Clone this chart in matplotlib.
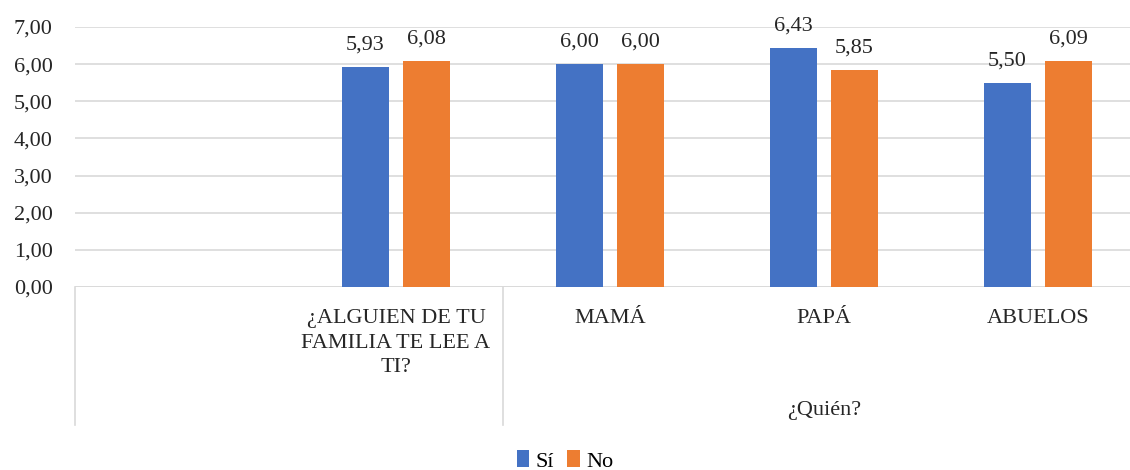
import matplotlib
matplotlib.use("Agg")
import matplotlib.pyplot as plt
from matplotlib.patches import Patch
import matplotlib.transforms as mtransforms
import numpy as np

plt.rcParams['font.family'] = ['Liberation Serif', 'DejaVu Serif']

categories = ["", "¿ALGUIEN DE TU\nFAMILIA TE LEE A\nTI?", "MAMÁ", "PAPÁ", "ABUELOS"]
group_label = "¿Quién?"
series_names = ["Sí", "No"]
si_values = [np.nan, 5.93, 6.00, 6.43, 5.50]
no_values = [np.nan, 6.08, 6.00, 5.85, 6.09]
yticks = [0, 1, 2, 3, 4, 5, 6, 7]

blue = "#4472C4"
orange = "#ED7D31"
grid_col = "#D9D9D9"
txt_col = "#262626"
fs = 16

fig = plt.figure(figsize=(11.3, 4.7), dpi=100)
ax = fig.add_axes([75 / 1130, 183 / 470, 1 - 75 / 1130, (287 - 27) / 470])

x = np.arange(len(categories))
w = 0.224
off = 0.1425
for vals, col, sign in ((si_values, blue, -1), (no_values, orange, 1)):
    ax.bar(x + sign * off, vals, width=w, color=col, zorder=3)
    for xi, v in zip(x, vals):
        if np.isnan(v):
            continue
        ax.annotate(f"{v:.2f}".replace(".", ","), (xi + sign * off, v),
                    xytext=(0, 9), textcoords="offset points",
                    ha="center", va="bottom", fontsize=fs, color=txt_col)

ax.set_ylim(0, 7)
ax.set_xlim(-0.5, (1130 - 75) / 214 - 0.5)
ax.set_yticks(yticks)
ax.set_yticklabels([f"{t:.2f}".replace(".", ",") for t in yticks], fontsize=fs, color=txt_col)
ax.tick_params(axis="y", length=0, pad=16)
ax.set_xticks([])
ax.grid(axis="y", color=grid_col, linewidth=1.2, zorder=0)
for s in ax.spines.values():
    s.set_visible(False)
ax.axhline(0, color=grid_col, linewidth=1.2, zorder=1)

# category labels and group separators below the axis
tr = mtransforms.blended_transform_factory(ax.transData, fig.transFigure)
for xi, lab in zip(x, categories):
    ax.text(xi, (470 - 309) / 470, lab, transform=tr, ha="center", va="top",
            fontsize=fs, color=txt_col, linespacing=1.4)
ax.text(3, (470 - 410) / 470, group_label, transform=tr, ha="center", va="center",
        fontsize=fs, color=txt_col)
for xb in (-0.5, 1.5):
    ax.plot([xb, xb], [(470 - 287) / 470, (470 - 425) / 470], transform=tr,
            color=grid_col, linewidth=1.2, clip_on=False)

handles = [Patch(facecolor=blue, label=series_names[0]),
           Patch(facecolor=orange, label=series_names[1])]
fig.legend(handles=handles, loc="center", bbox_to_anchor=(0.5, (470 - 461) / 470), ncol=2,
           frameon=False, fontsize=fs, handlelength=0.55, handleheight=0.8,
           handletextpad=0.3, columnspacing=0.6, borderpad=0)

fig.savefig("out.png", dpi=100)
